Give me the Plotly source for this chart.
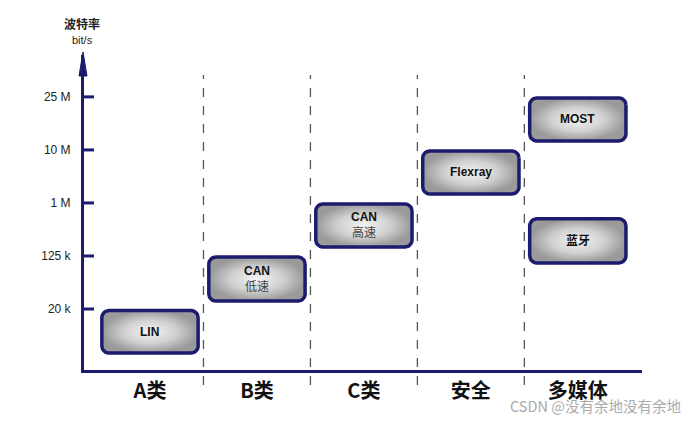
import numpy as np
import plotly.graph_objects as go

# ---- data ----
categories = ["A类", "B类", "C类", "安全", "多媒体"]
tick_levels = [0, 1, 2, 3, 4]
tick_labels = ["20 k", "125 k", "1 M", "10 M", "25 M"]
box_labels = ["LIN", "CAN", "CAN", "Flexray", "MOST", "蓝牙"]
box_sublabels = ["", "低速", "高速", "", "", ""]
box_category = ["A类", "B类", "C类", "安全", "多媒体", "多媒体"]
box_top = [-0.03, 0.98, 1.98, 2.98, 3.98, 1.70]
box_bottom = [-0.83, 0.15, 1.17, 2.17, 3.17, 0.87]

# ---- layout constants ----
W, H = 698, 421
ML, MR, MT, MB = 84, 56, 55, 51
XR = [-0.617, 4.6]
YR = [-1.15, 4.79]
NAVY = "#1c1c6e"
PW, PH = W - ML - MR, H - MT - MB
px_x = PW / (XR[1] - XR[0])
px_y = PH / (YR[1] - YR[0])
HALF_W = 0.45
RADIUS = 7


def paper_x(p):
    return (p - ML) / PW


def paper_y(p):
    return (H - MB - p) / PH


def rounded_rect(x0, x1, y0, y1, r_px):
    rx, ry = r_px / px_x, r_px / px_y
    corners = [
        (x1 - rx, y1 - ry, 0, 90),
        (x0 + rx, y1 - ry, 90, 180),
        (x0 + rx, y0 + ry, 180, 270),
        (x1 - rx, y0 + ry, 270, 360),
    ]
    xs, ys = [], []
    for cx, cy, a0, a1 in corners:
        for a in np.linspace(np.radians(a0), np.radians(a1), 8):
            xs.append(cx + rx * np.cos(a))
            ys.append(cy + ry * np.sin(a))
    xs.append(xs[0])
    ys.append(ys[0])
    return xs, ys


fig = go.Figure()
annotations = []
for lab, sub, cat, top, bot in zip(box_labels, box_sublabels, box_category, box_top, box_bottom):
    cx = categories.index(cat)
    xs, ys = rounded_rect(cx - HALF_W, cx + HALF_W, bot, top, RADIUS)
    fig.add_trace(go.Scatter(
        x=xs, y=ys, mode="lines", fill="toself",
        fillgradient=dict(type="radial", colorscale=[[0, "#f4f4f4"], [0.55, "#d0d0d0"], [1, "#9a9a9a"]]),
        line=dict(color=NAVY, width=3.5),
        hoverinfo="skip", showlegend=False,
    ))
    if sub:
        text = f"<b>{lab}</b><br><span style='color:#444'>{sub}</span>"
    else:
        text = f"<b>{lab}</b>"
    annotations.append(dict(
        x=cx, y=(top + bot) / 2, xref="x", yref="y", text=text, showarrow=False,
        font=dict(family="Liberation Sans, Noto Sans CJK SC", size=12, color="#111"),
        align="center",
    ))

shapes = []
# dashed dividers
for i in range(len(categories) - 1):
    shapes.append(dict(type="line", xref="x", yref="paper", x0=i + 0.5, x1=i + 0.5,
                       y0=paper_y(385), y1=paper_y(75), line=dict(color="#555", width=1.3, dash="dash")))
# tick marks crossing the axis
for lv in tick_levels:
    shapes.append(dict(type="line", xref="x", yref="y", xsizemode="pixel", xanchor=XR[0],
                       x0=-6, x1=10, y0=lv, y1=lv, line=dict(color=NAVY, width=3)))
# arrow head (paper coordinates)
ax0, ax1, axc = paper_x(79), paper_x(87), paper_x(83)
ay_base, ay_tip = paper_y(76), paper_y(52)
shapes.append(dict(type="path", xref="paper", yref="paper",
                   path=f"M {ax0} {ay_base} L {axc} {ay_tip} L {ax1} {ay_base} Z",
                   fillcolor=NAVY, line=dict(color=NAVY, width=1)))

annotations += [
    dict(x=paper_x(82), y=paper_y(24), xref="paper", yref="paper", text="<b>波特率</b>",
         showarrow=False, xanchor="center", yanchor="middle",
         font=dict(family="Noto Sans CJK SC", size=12, color="#222")),
    dict(x=paper_x(82), y=paper_y(40), xref="paper", yref="paper", text="bit/s",
         showarrow=False, xanchor="center", yanchor="middle",
         font=dict(family="Liberation Sans", size=11, color="#222")),
    dict(x=paper_x(595), y=paper_y(405), xref="paper", yref="paper",
         text="CSDN @没有余地没有余地", showarrow=False, xanchor="center", yanchor="middle",
         font=dict(family="Noto Sans CJK SC", size=14.5, color="#aaaaaa")),
]

fig.update_layout(
    width=W, height=H, margin=dict(l=ML, r=MR, t=MT, b=MB, autoexpand=False),
    paper_bgcolor="white", plot_bgcolor="white",
    shapes=shapes, annotations=annotations,
    xaxis=dict(range=XR, tickvals=list(range(len(categories))), ticktext=categories,
               showgrid=False, zeroline=False, showline=True, linecolor=NAVY, linewidth=3,
               ticks="", ticklabelstandoff=1, automargin=False,
               tickfont=dict(family="Noto Sans CJK SC", size=20, color="#111", weight="bold")),
    yaxis=dict(range=YR, tickvals=tick_levels, ticktext=tick_labels,
               showgrid=False, zeroline=False, showline=True, linecolor=NAVY, linewidth=3,
               ticks="", ticklabelstandoff=8, automargin=False,
               tickfont=dict(family="Liberation Sans", size=12, color="#222")),
)

fig.write_html("out.html", config={"displayModeBar": False},
               post_script="document.body.style.margin='0';")
